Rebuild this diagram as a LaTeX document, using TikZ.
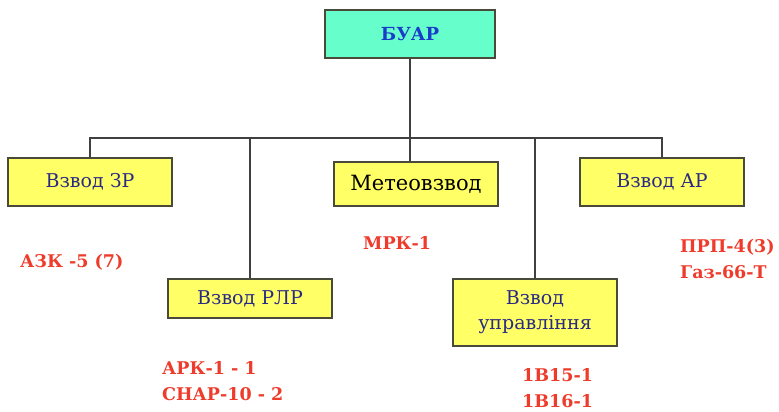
\documentclass[tikz,border=0pt]{standalone}
\usepackage{fontspec}
\setmainfont{DejaVu Serif}
\usepackage{xcolor}
\definecolor{aqua}{HTML}{66FFCC}
\definecolor{boxyellow}{HTML}{FFFF66}
\definecolor{boxline}{HTML}{4A4A3A}
\definecolor{unitblue}{HTML}{2A2A85}
\definecolor{headblue}{HTML}{1A3CC8}
\definecolor{kitred}{HTML}{EE3B2B}

\begin{document}
\begin{tikzpicture}[x=1pt,y=-1pt,
  unit/.style={draw=boxline,line width=1.2pt,fill=boxyellow,minimum width=164pt,minimum height=48pt,inner sep=2pt,align=center,text=unitblue,font=\fontsize{19}{22}\selectfont},
  kit/.style={inner sep=0pt,anchor=west,align=left,text=kitred,font=\bfseries\fontsize{17.5}{26}\selectfont},
  link/.style={draw=black!75,line width=1.2pt}]
\useasboundingbox (0,0) rectangle (779,412);
% head
\node[unit,fill=aqua,minimum width=170pt,text=headblue,font=\bfseries\fontsize{18}{21}\selectfont] (buar) at (410,34) {БУАР};
% platoons
\node[unit] (zr) at (90,182) {Взвод ЗР};
\node[unit,minimum height=44pt,text=black,font=\fontsize{21}{22}\selectfont] (meteo) at (416,184) {Метеовзвод};
\node[unit] (ar) at (662,182) {Взвод АР};
\node[unit] (rlr) at (250,298.5) [minimum height=39pt] {Взвод РЛР};
\node[unit,minimum height=67pt,font=\fontsize{19}{25}\selectfont] (upr) at (535,312.5) {Взвод\\управління};
% equipment
\node[kit] (zrkit) at (20,262) {АЗК -5 (7)};
\node[kit] (meteokit) at (363,243) {МРК-1};
\node[kit] (arkit) at (680,259) {ПРП-4(3)\\Газ-66-Т};
\node[kit] (rlrkit) at (162,381) {АРК-1 - 1\\СНАР-10 - 2};
\node[kit] (uprkit) at (522,388) {1В15-1\\1В16-1};
% links
\coordinate (bus) at (410,138);
\draw[link] (zr.north) -- (zr.north |- bus) -| (ar.north);
\draw[link] (buar.south) -- (bus);
\draw[link] (bus) -- (meteo.north -| bus);
\draw[link] (rlr.north) -- (rlr.north |- bus);
\draw[link] (upr.north) -- (upr.north |- bus);
\end{tikzpicture}
\end{document}
